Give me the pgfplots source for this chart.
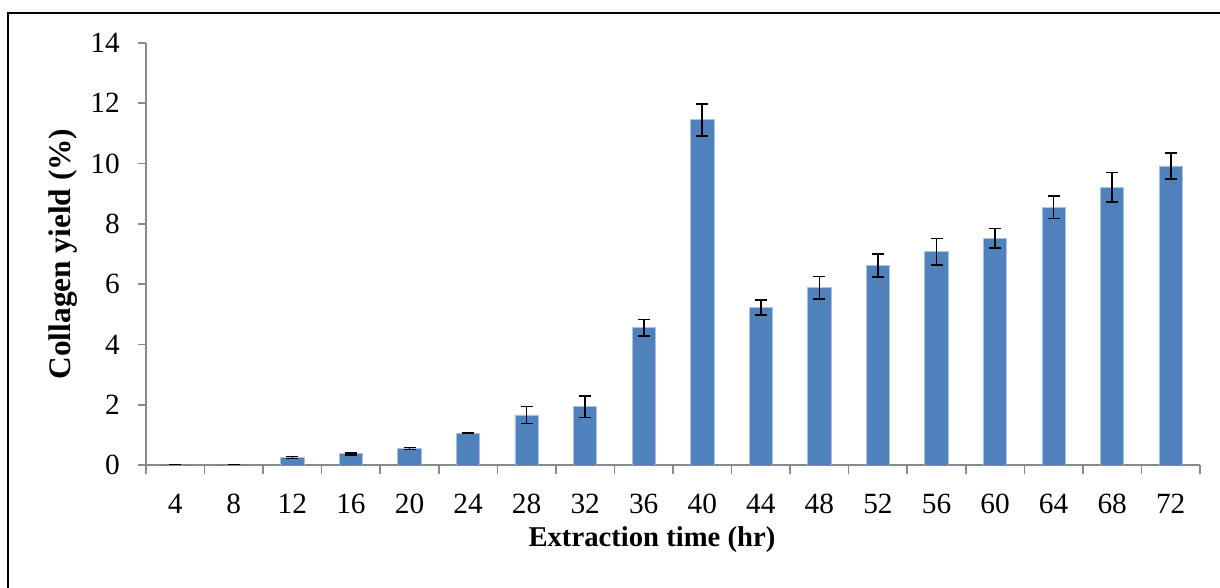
\documentclass[border=0pt]{standalone}
\usepackage{pgfplots}
\pgfplotsset{compat=1.18}
\usepackage{pgfplotstable}
\usepackage{fontspec}
\setmainfont{Liberation Serif}
\definecolor{barblue}{RGB}{79,129,189}
\definecolor{baredge}{RGB}{170,195,225}
\definecolor{axgray}{RGB}{137,137,137}

\pgfplotstableread{
pos time yield err
1  4  0.00 0.00
2  8  0.00 0.00
3  12 0.25 0.03
4  16 0.37 0.03
5  20 0.55 0.03
6  24 1.06 0.02
7  28 1.66 0.28
8  32 1.93 0.36
9  36 4.55 0.28
10 40 11.45 0.53
11 44 5.22 0.25
12 48 5.88 0.37
13 52 6.62 0.38
14 56 7.07 0.44
15 60 7.52 0.32
16 64 8.55 0.37
17 68 9.22 0.49
18 72 9.92 0.44
}\datatable

\begin{document}
\begin{tikzpicture}
\useasboundingbox (-109.5pt,-92.25pt) rectangle (805.5pt,348.75pt);
\draw[line width=1.5pt] (-103.5pt,-100pt) -- (-103.5pt,339pt) -- (820pt,339pt);
\begin{axis}[
  at={(0pt,0pt)}, anchor=south west,
  scale only axis, width=790.5pt, height=316.5pt,
  xmin=0.5, xmax=18.5, ymin=0, ymax=14,
  axis lines*=left,
  axis line style={axgray, line width=1.2pt},
  ytick={0,2,...,14},
  xtick={1,...,18},
  xticklabels={4,8,12,16,20,24,28,32,36,40,44,48,52,56,60,64,68,72},
  minor xtick={0.5,1.5,...,18.5},
  major x tick style={draw=none},
  tick align=outside,
  major tick length=6pt, minor tick length=7pt,
  every tick/.style={axgray, line width=1.2pt},
  /pgf/number format/assume math mode=true,
  xticklabel style={font=\fontsize{22}{26}\selectfont, anchor=base, inner sep=0pt, yshift=-30pt},
  yticklabel style={font=\fontsize{22}{26}\selectfont, anchor=east, inner sep=0pt, xshift=-13.5pt},
  xlabel={Extraction time (hr)},
  ylabel={Collagen yield (\%)},
  xlabel style={at={(axis description cs:0.48,-0.192)}, anchor=base, font=\fontsize{21.5}{25}\selectfont\bfseries, inner sep=0pt},
  ylabel style={at={(axis description cs:-0.0787,0.5)}, anchor=center, font=\fontsize{23.5}{27}\selectfont\bfseries, inner sep=0pt},
  ybar, bar width=17.5pt,
]
\addplot[fill=barblue, draw=baredge, line width=0.6pt,
  error bars/.cd, y dir=both, y explicit,
  error bar style={black, line width=1.2pt},
  error mark options={rotate=90, black, line width=1.2pt, mark size=4.5pt}]
  table[x=pos, y=yield, y error=err] {\datatable};
\end{axis}
\end{tikzpicture}
\end{document}
